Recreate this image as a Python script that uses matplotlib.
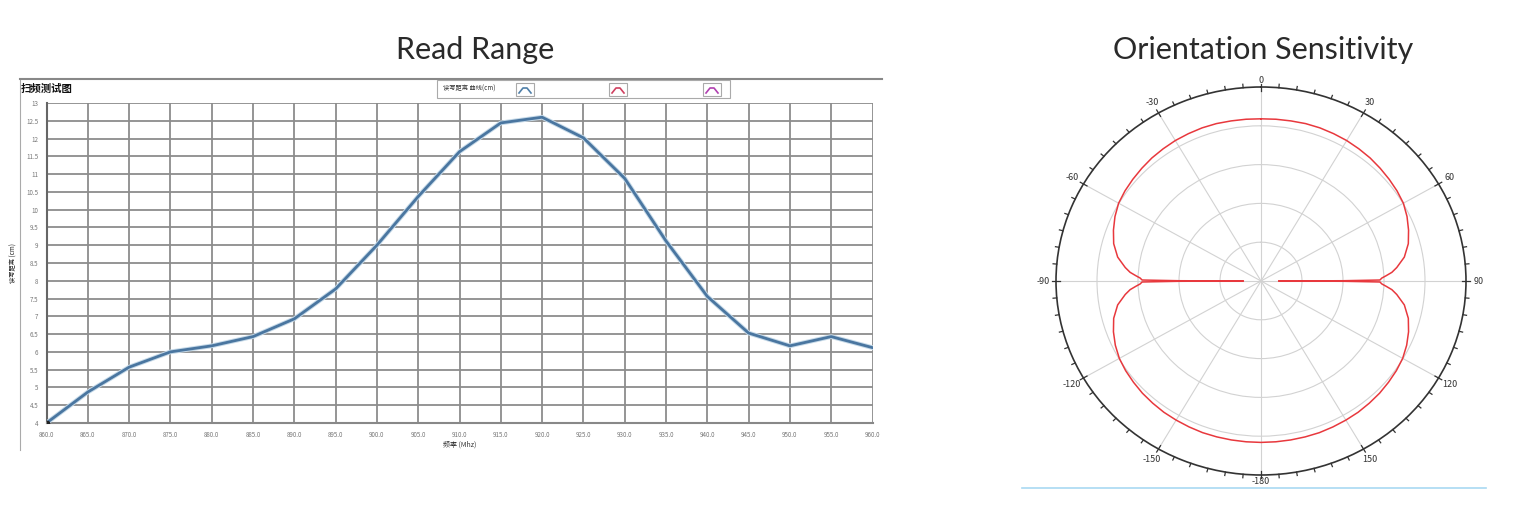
import numpy as np
import matplotlib.pyplot as plt
import matplotlib.patheffects as pe
from matplotlib.lines import Line2D
from matplotlib.patches import Rectangle

plt.rcParams['font.family'] = ['Noto Sans CJK SC', 'DejaVu Sans']

# Read range data (frequency sweep)
freq = [860, 865, 870, 875, 880, 885, 890, 895, 900, 905, 910,
        915, 920, 925, 930, 935, 940, 945, 950, 955, 960]
read_range = [4.0, 4.87, 5.57, 6.0, 6.17, 6.43, 6.93, 7.77, 9.0, 10.37, 11.63,
              12.44, 12.6, 12.02, 10.88, 9.12, 7.56, 6.53, 6.17, 6.43, 6.12]
y_ticks = np.arange(4, 13.01, 0.5)
x_tick_labels = ["%.1f" % f for f in freq]

# Orientation sensitivity, right half (deg clockwise from top), mirrored for the left half
theta_deg = [0, 5, 10, 15, 20, 25, 30, 35, 40, 45, 50, 55, 60, 65, 70, 75, 80, 84, 86, 87.5,
             88.5, 89.5, 89.8, 90, 90.2, 90.5, 91.5, 92.5, 94, 96, 100, 105, 110, 115, 120,
             125, 130, 135, 140, 145, 150, 155, 160, 165, 170, 175, 180]
radius = [4.18, 4.185, 4.19, 4.2, 4.2, 4.19, 4.18, 4.16, 4.14, 4.11, 4.08, 4.05, 4.01, 3.93, 3.83,
          3.72, 3.55, 3.33, 3.2, 3.05, 2.95, 2.9, 2.0, 0.43, 2.0, 2.9, 2.95, 3.05, 3.2, 3.33,
          3.55, 3.72, 3.83, 3.92, 3.99, 4.03, 4.06, 4.09, 4.11, 4.13, 4.14, 4.15, 4.16, 4.16,
          4.16, 4.16, 4.16]
polar_angles = [0, 30, 60, 90, 120, 150, 180, 210, 240, 270, 300, 330]
polar_labels = ['0', '30', '60', '90', '120', '150', '-180', '-150', '-120', '-90', '-60', '-30']

W, H = 1517, 522
fig = plt.figure(figsize=(W / 100, H / 100), dpi=100)


def fx(px):
    return px / W


def fy(py):
    return 1 - py / H


# titles
fig.text(fx(475), fy(50), "Read Range", ha='center', va='center', fontsize=22,
         family=['Lato', 'DejaVu Sans'], color='#2a2a2a')
fig.text(fx(1263), fy(50), "Orientation Sensitivity", ha='center', va='center', fontsize=22,
         family=['Lato', 'DejaVu Sans'], color='#2a2a2a')

# panel frame of the screenshot-like chart
bg = fig.add_axes([fx(20), fy(450), fx(862), (450 - 79) / H])
bg.set_xticks([])
bg.set_yticks([])
bg.patch.set_alpha(0)
for s in ['right', 'bottom']:
    bg.spines[s].set_visible(False)
bg.spines['top'].set_color('#888888')
bg.spines['top'].set_linewidth(1.5)
bg.spines['left'].set_color('#aaaaaa')

fig.text(fx(21), fy(89), "扫频测试图", ha='left', va='center', fontsize=7.5,
         fontweight='bold', color='#111111')

# legend box
fig.add_artist(Rectangle((fx(437), fy(98)), fx(293), 18 / H, transform=fig.transFigure,
                         fill=False, edgecolor='#aaaaaa', linewidth=0.8))
fig.text(fx(443), fy(89), "读写距离 曲线(cm)", ha='left', va='center', fontsize=4.5, color='#333333')
for x0, c in [(516, '#4f7fa8'), (609, '#d04060'), (703, '#b040b0')]:
    fig.add_artist(Rectangle((fx(x0), fy(96)), fx(18), 13 / H, transform=fig.transFigure,
                             fill=False, edgecolor='#aaaaaa', linewidth=0.8))
    fig.add_artist(Line2D([fx(x0 + 3), fx(x0 + 7), fx(x0 + 11), fx(x0 + 15)],
                          [fy(93), fy(88), fy(88), fy(93)], transform=fig.transFigure,
                          color=c, linewidth=1.2))

ax = fig.add_axes([fx(46.5), fy(423), fx(826), (423 - 103) / H])
ax.set_xlim(860, 960)
ax.set_ylim(4, 13)
ax.set_xticks(freq)
ax.set_xticklabels(x_tick_labels, fontsize=4.5, color='#777777')
ax.set_yticks(y_ticks)
ax.set_yticklabels(["%g" % v for v in y_ticks], fontsize=4.5, color='#777777')
ax.tick_params(length=0, pad=6)
ax.grid(True, color='#8c8c8c', linewidth=1.3)
for s in ax.spines.values():
    s.set_visible(False)
ax.spines['left'].set_visible(True)
ax.spines['left'].set_color('#666666')
ax.spines['left'].set_linewidth(1.5)
ax.spines['bottom'].set_visible(True)
ax.spines['bottom'].set_color('#888888')
ax.spines['bottom'].set_linewidth(1.5)
ax.plot(freq, read_range, color='#4a76a0', linewidth=2.0, zorder=3,
        path_effects=[pe.Stroke(linewidth=3.4, foreground='#c5d9e8'), pe.Normal()])
ax.plot(freq[0], read_range[0], 'o', color='#222222', markersize=3, zorder=4)
ax.set_xlabel("频率 (Mhz)", fontsize=5, color='#333333', labelpad=1)
ax.set_ylabel("读写距离 (cm)", fontsize=4.5, color='#222222', labelpad=6)

# polar chart
th = np.deg2rad(theta_deg)
r = np.array(radius)
th_full = np.concatenate([th, (2 * np.pi - th)[::-1]])
r_full = np.concatenate([r, r[::-1]])

pax = fig.add_axes([fx(1056), fy(475), fx(410), 388 / H], projection='polar')
pax.set_aspect('auto')
pax.set_theta_zero_location('N')
pax.set_theta_direction(-1)
pax.set_ylim(0, 5)
pax.set_yticks([1, 2, 3, 4])
pax.set_yticklabels([])
pax.set_xticks(np.deg2rad(polar_angles))
pax.set_xticklabels([])
pax.grid(True, color='#d2d2d2', linewidth=0.8)
pax.spines['polar'].set_color('#333333')
pax.spines['polar'].set_linewidth(1.2)

# tick marks around the outer ring
for a in range(0, 360, 5):
    t = np.deg2rad(a)
    r0, r1 = (4.9, 5.09) if a % 30 == 0 else (5.0, 5.09)
    pax.plot([t, t], [r0, r1], color='#333333', linewidth=0.9, clip_on=False)

for a, lab in zip(polar_angles, polar_labels):
    rl = 5.17 if a in (0, 180) else 5.32
    pax.text(np.deg2rad(a), rl, lab, ha='center', va='center', fontsize=6.5,
             color='#333333', clip_on=False)

pax.plot(th_full, r_full, color='#e8383d', linewidth=1.1)
pax.set_ylim(0, 5)

fig.add_artist(Line2D([fx(1022), fx(1486)], [fy(488), fy(488)], transform=fig.transFigure,
                      color='#a9d9f2', linewidth=1.2))

fig.savefig("out.png", dpi=100)
